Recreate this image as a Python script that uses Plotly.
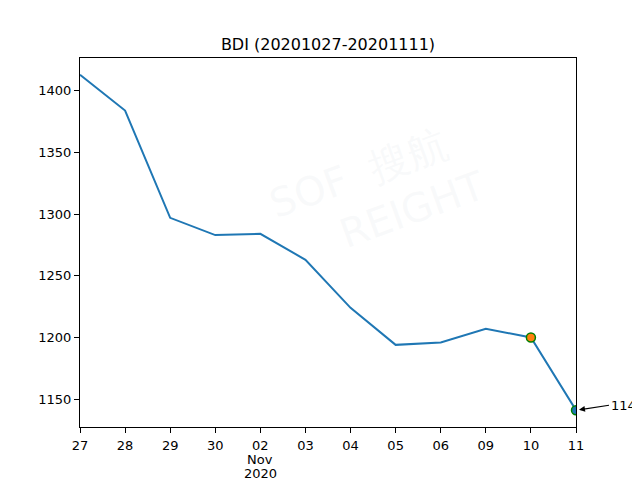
import plotly.graph_objects as go

dates = ["27", "28", "29", "30", "02", "03", "04", "05", "06", "09", "10", "11"]
month_label = ["Nov", "2020"]
bdi = [1413, 1384, 1297, 1283, 1284, 1263, 1224, 1194, 1196, 1207, 1200, 1141]
yticks = [1150, 1200, 1250, 1300, 1350, 1400]

xs = list(range(len(dates)))
fig = go.Figure()
fig.add_trace(go.Scatter(x=xs, y=bdi, mode="lines", line=dict(color="#1f77b4", width=2), showlegend=False))
fig.add_trace(go.Scatter(x=[xs[-2]], y=[bdi[-2]], mode="markers",
                         marker=dict(color="#ff7f0e", size=9, line=dict(color="green", width=1.5)), showlegend=False))
fig.add_trace(go.Scatter(x=[xs[-1]], y=[bdi[-1]], mode="markers",
                         marker=dict(color="#1f77b4", size=9, line=dict(color="green", width=1.5)), showlegend=False))

fig.add_annotation(x=xs[-1], y=bdi[-1], text=str(bdi[-1]), showarrow=True, arrowhead=2, arrowsize=1,
                   arrowwidth=1.2, arrowcolor="black", standoff=3, ax=33, ay=-5, xanchor="left",
                   font=dict(size=13, color="black"))

# month / year sub-labels under "02"
nov_idx = dates.index("02")
for txt, shift in zip(month_label, [-32, -46]):
    fig.add_annotation(x=nov_idx, xref="x", y=0, yref="paper", text=txt, showarrow=False,
                       yanchor="middle", yshift=shift, font=dict(size=13, color="black"))

# faint watermark
fig.add_annotation(xref="paper", yref="paper", x=0.58, y=0.62, text="SOF  搜航<br>      REIGHT",
                   showarrow=False, textangle=-20, font=dict(size=40, color="rgba(200,210,220,0.12)"))

fig.update_layout(
    width=640, height=480,
    margin=dict(l=72, r=72, t=50, b=61),
    plot_bgcolor="white", paper_bgcolor="white",
    font=dict(family="DejaVu Sans", size=13, color="black"),
    title=dict(text="BDI (20201027-20201111)", x=0.5, xanchor="center", y=0.925, yanchor="middle",
               font=dict(size=16)),
)
fig.update_xaxes(range=[0, len(dates) - 1], tickvals=xs, ticktext=dates, showgrid=False, zeroline=False,
                 showline=True, linecolor="black", linewidth=1, mirror=True, ticks="outside", ticklen=5,
                 tickcolor="black", automargin=False, ticklabelstandoff=1)
fig.update_yaxes(range=[1127.4, 1426.6], tickvals=yticks, showgrid=False, zeroline=False,
                 showline=True, linecolor="black", linewidth=1, mirror=True, ticks="outside", ticklen=5,
                 tickcolor="black", automargin=False)

fig.write_html("out.html")
